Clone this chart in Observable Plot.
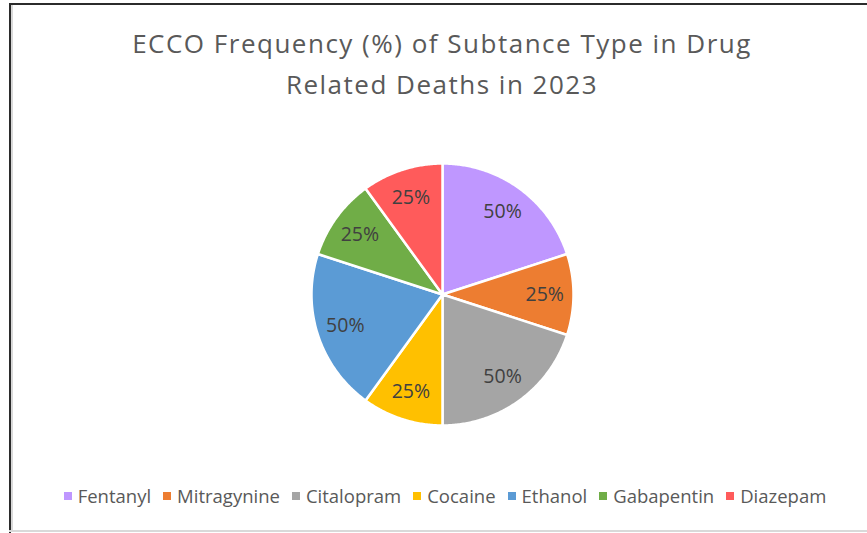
<!DOCTYPE html>
<html>
<head>
<meta charset="utf-8">
<script src="https://cdn.jsdelivr.net/npm/d3@7"></script>
<script src="https://cdn.jsdelivr.net/npm/@observablehq/plot@0.6"></script>
<style>
  html, body { margin: 0; padding: 0; background: #fff; }
  #wrap { position: relative; width: 867px; height: 533px; overflow: hidden; background: #fff; font-family: "Open Sans", Lato, sans-serif; }
  #title { position: absolute; left: 0; top: 23px; width: 884px; text-align: center; color: #595959; font-size: 26px; line-height: 41px; letter-spacing: 1.5px; }
  #chart { position: absolute; left: 0; top: 115px; }
  #legend { position: absolute; left: 0; top: 483px; width: 890px; display: flex; justify-content: center; align-items: center; color: #595959; font-size: 18.5px; }
  .item { display: flex; align-items: center; margin: 0 6px; }
  .sw { width: 8px; height: 8px; margin-right: 6px; }
  .bl { position: absolute; left: 9px; top: 3px; width: 2px; height: 530px; background: #2b2b2b; }
  .bl2 { position: absolute; left: 11px; top: 5px; width: 2px; height: 526px; background: #d9d9d9; }
  .bt { position: absolute; left: 9px; top: 3px; width: 858px; height: 2px; background: #2b2b2b; }
  .bb { position: absolute; left: 9px; top: 530px; width: 858px; height: 2px; background: #d9d9d9; }
</style>
</head>
<body>
<div id="wrap">
  <div class="bl"></div><div class="bl2"></div><div class="bt"></div><div class="bb"></div>
  <div id="title">ECCO Frequency (%) of Subtance Type in Drug<br>Related Deaths in 2023</div>
  <div id="chart"></div>
  <div id="legend"></div>
</div>
<script>
const names = ["Fentanyl", "Mitragynine", "Citalopram", "Cocaine", "Ethanol", "Gabapentin", "Diazepam"];
const values = [50, 25, 50, 25, 50, 25, 25];
const labels = ["50%", "25%", "50%", "25%", "50%", "25%", "25%"];
const colors = ["#BF97FF", "#ED7D31", "#A5A5A5", "#FFC000", "#5B9BD5", "#70AD47", "#FF5B5B"];

const data = names.map((n, i) => ({name: n, value: values[i], label: labels[i]}));
const arcs = d3.pie().sort(null).value(d => d.value).startAngle(0).endAngle(2 * Math.PI)(data);

const pts = [];
const labs = [];
for (const a of arcs) {
  const n = a.data.name;
  pts.push({name: n, x: 0, y: 0});
  const steps = Math.max(8, Math.ceil((a.endAngle - a.startAngle) / 0.01));
  for (let k = 0; k <= steps; k++) {
    const t = a.startAngle + (a.endAngle - a.startAngle) * k / steps;
    pts.push({name: n, x: Math.sin(t), y: Math.cos(t)});
  }
  const m = (a.startAngle + a.endAngle) / 2;
  labs.push({name: n, label: a.data.label, x: 0.78 * Math.sin(m), y: 0.78 * Math.cos(m)});
}

const cx = 442, cy = 179, r = 131;
const plot = Plot.plot({
  width: 867, height: 350,
  margin: 0,
  x: {domain: [-1, 1], range: [cx - r, cx + r], axis: null},
  y: {domain: [-1, 1], range: [cy + r, cy - r], axis: null},
  color: {domain: names, range: colors},
  style: {background: "transparent", fontFamily: "'Open Sans', Lato, sans-serif"},
  marks: [
    Plot.line(pts, {x: "x", y: "y", z: "name", fill: "name", stroke: "white", strokeWidth: 2.5, curve: "linear-closed", strokeLinejoin: "round"}),
    Plot.text(labs, {x: "x", y: "y", text: "label", fill: "#404040", fontSize: 19.5})
  ]
});
document.getElementById("chart").appendChild(plot);

const leg = document.getElementById("legend");
names.forEach((n, i) => {
  const it = document.createElement("div");
  it.className = "item";
  const sw = document.createElement("div");
  sw.className = "sw";
  sw.style.background = colors[i];
  const tx = document.createElement("span");
  tx.textContent = n;
  it.appendChild(sw); it.appendChild(tx);
  leg.appendChild(it);
});
</script>
</body>
</html>
